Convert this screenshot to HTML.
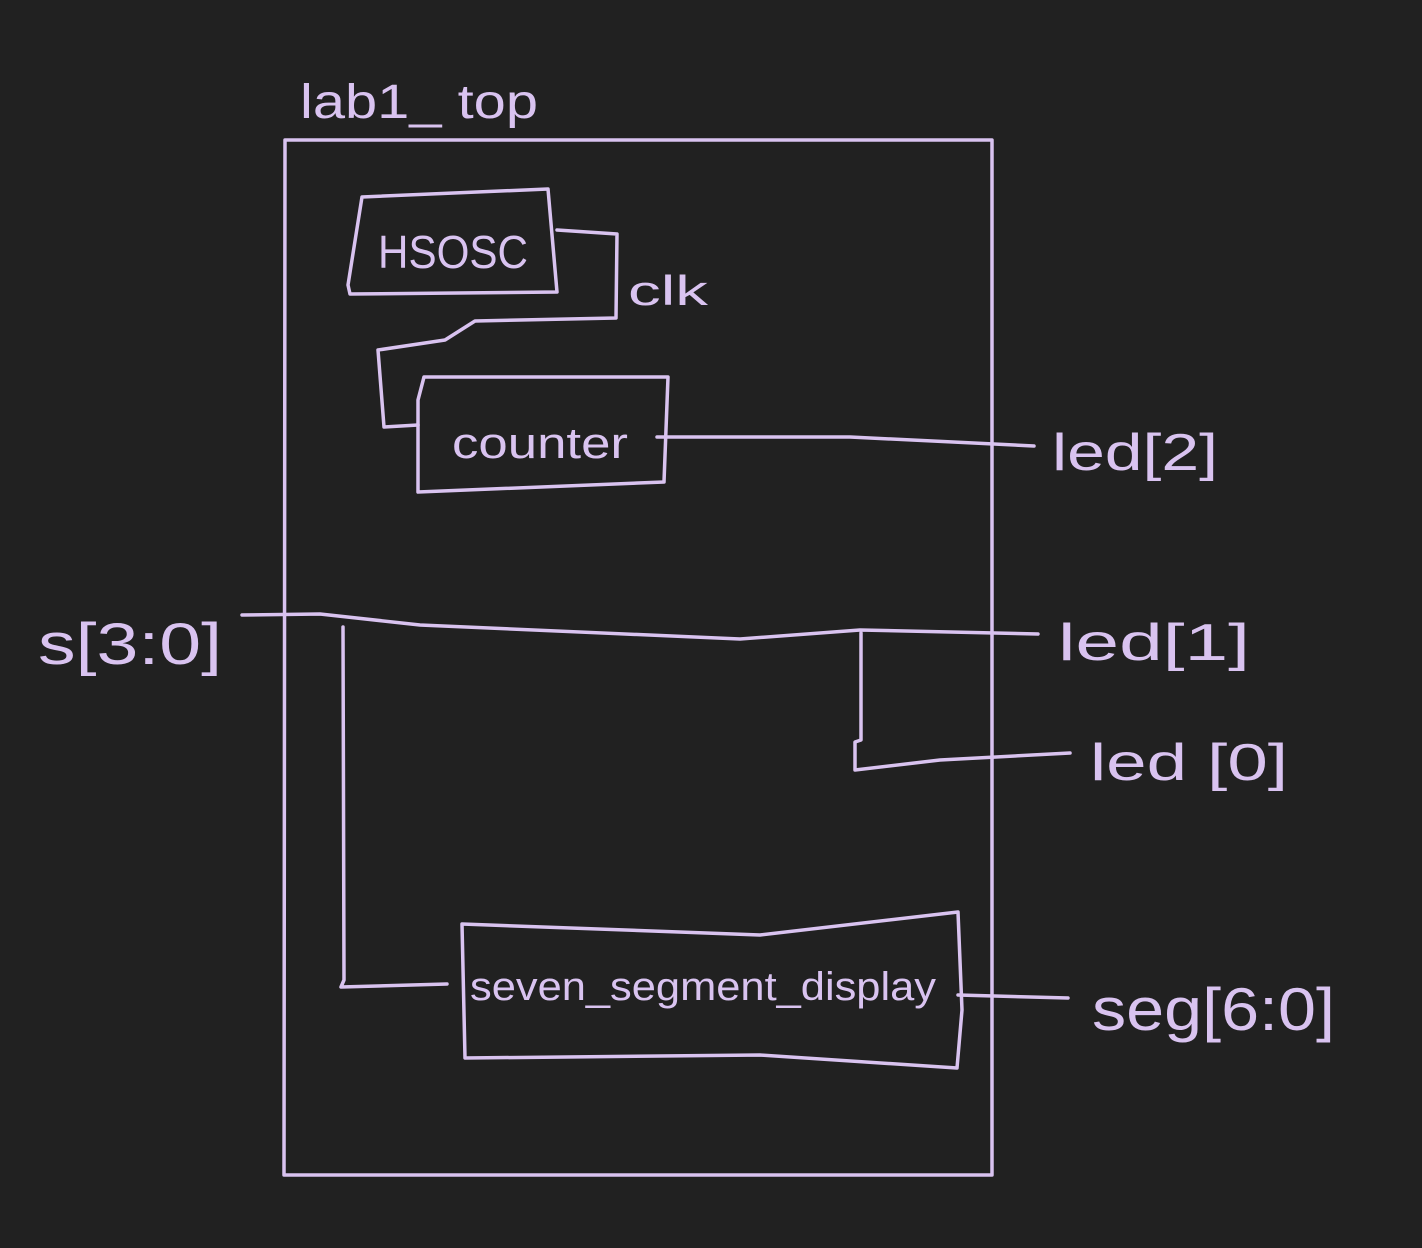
<!DOCTYPE html>
<html><head><meta charset="utf-8"><style>
html,body{margin:0;padding:0;background:#212121;}
svg{display:block}
text{font-family:"Liberation Sans",sans-serif;fill:#d9c3f0;}
</style></head><body>
<svg width="1422" height="1248" viewBox="0 0 1422 1248" xmlns="http://www.w3.org/2000/svg">
<rect width="1422" height="1248" fill="#212121"/>
<g fill="none" stroke="#d9c3f0" stroke-width="3.5" stroke-linecap="round" stroke-linejoin="round">
<path d="M285 140 L992 140 L992 1175 L284 1175 Z"/>
<path d="M362 197 L548 189 L557 292 L350 294 L348 285 Z"/>
<path d="M557 230 L617 234 L616 318 L475 321 L445 340 L378 350 L384 427 L418 425"/>
<path d="M424 377 L668 377 L664 482 L418 492 L418 400 L424 377"/>
<path d="M657 437 L850 437 L1034 446"/>
<path d="M242 615 L320 614 L420 625 L740 639 L860 630 L1038 634"/>
<path d="M343 627 L344 980 L341 987 L447 984"/>
<path d="M861 633 L861 740 L855 742 L855 770 L940 760 L1070 753"/>
<path d="M462 924 L760 935 L958 912 L962 1010 L957 1068 L760 1055 L465 1058 L462 924"/>
<path d="M958 995 L1068 998"/>
</g>
<g lengthAdjust="spacingAndGlyphs">
<text x="300" y="118" font-size="48" textLength="238" lengthAdjust="spacingAndGlyphs">lab1_ top</text>
<text x="378" y="268" font-size="46" textLength="150" lengthAdjust="spacingAndGlyphs">HSOSC</text>
<text x="628" y="305" font-size="42" textLength="80" lengthAdjust="spacingAndGlyphs">clk</text>
<text x="452" y="458" font-size="44" textLength="176" lengthAdjust="spacingAndGlyphs">counter</text>
<text x="1052" y="470" font-size="52" textLength="166" lengthAdjust="spacingAndGlyphs">led[2]</text>
<text x="1058" y="660" font-size="52" textLength="192" lengthAdjust="spacingAndGlyphs">led[1]</text>
<text x="1090" y="780" font-size="52" textLength="198" lengthAdjust="spacingAndGlyphs">led [0]</text>
<text x="38" y="664" font-size="58" textLength="184" lengthAdjust="spacingAndGlyphs">s[3:0]</text>
<text x="470" y="1000" font-size="40" textLength="466" lengthAdjust="spacingAndGlyphs">seven_segment_display</text>
<text x="1092" y="1030" font-size="60" textLength="243" lengthAdjust="spacingAndGlyphs">seg[6:0]</text>
</g>
</svg>
</body></html>
